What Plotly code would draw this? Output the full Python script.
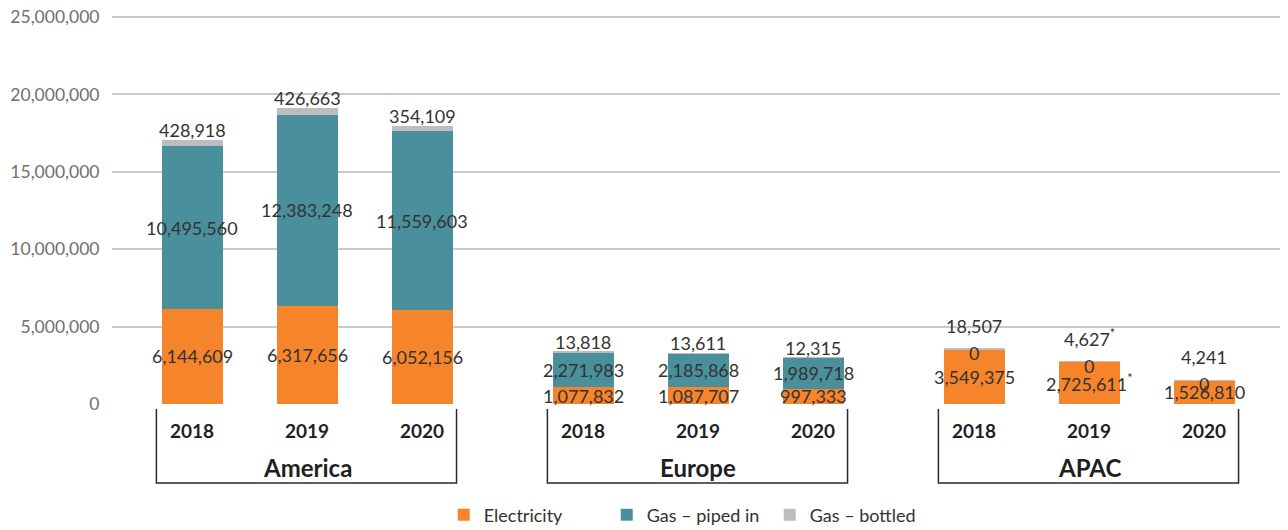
import plotly.graph_objects as go

# ---- data ----
regions = ["America", "Europe", "APAC"]
years = ["2018", "2019", "2020"]
electricity = [6144609, 6317656, 6052156, 1077832, 1087707, 997333, 3549375, 2725611, 1526810]
gas_piped = [10495560, 12383248, 11559603, 2271983, 2185868, 1989718, 0, 0, 0]
gas_bottled = [428918, 426663, 354109, 13818, 13611, 12315, 18507, 4627, 4241]
footnote = ["", "", "", "", "", "", "", "*", ""]  # asterisk markers on APAC 2019
y_ticks = [0, 5000000, 10000000, 15000000, 20000000, 25000000]

series_names = ["Electricity", "Gas – piped in", "Gas – bottled"]
colors = ["#F5842A", "#4A8F9C", "#BCBDC0"]

# ---- layout helpers ----
YEAR_STEP = 1.0
GROUP_STEP = 3.4
BAR_W = 0.53
xpos = []
for gi, _ in enumerate(regions):
    for yi, _ in enumerate(years):
        xpos.append(gi * GROUP_STEP + yi * YEAR_STEP)

FONT = "Lato"
LABEL_COLOR = "#333333"
LSIZE = 18

fig = go.Figure()
for name, vals, col in zip(series_names, [electricity, gas_piped, gas_bottled], colors):
    fig.add_trace(go.Bar(
        x=xpos, y=vals, name=name, width=BAR_W,
        marker=dict(color=col, line=dict(width=0)),
        hoverinfo="y+name",
    ))

annotations = []
for i, x in enumerate(xpos):
    e, g, b = electricity[i], gas_piped[i], gas_bottled[i]
    star = "<sup>*</sup>" if footnote[i] else ""
    annotations.append(dict(x=x, y=e / 2, xref="x", yref="y", text=f"{e:,}{star}",
                            showarrow=False, yanchor="middle",
                            font=dict(size=LSIZE, color=LABEL_COLOR, family=FONT)))
    annotations.append(dict(x=x, y=e + g / 2, xref="x", yref="y", text=f"{g:,}",
                            showarrow=False, yanchor="middle",
                            yshift=(-4 if g == 0 else 0),
                            font=dict(size=LSIZE, color=LABEL_COLOR, family=FONT)))
    annotations.append(dict(x=x, y=e + g + b, xref="x", yref="y", text=f"{b:,}{star}",
                            showarrow=False, yanchor="bottom",
                            yshift=(10 if g == 0 else -3),
                            font=dict(size=LSIZE, color=LABEL_COLOR, family=FONT)))

# plot area (page pixels): 14 (top) to 404 (bottom); y range runs a bit past 25M
PH = 390.0
Y_MAX = 25200000
def py(pix):
    return (404 - pix) / PH

shapes = []
for gi, reg in enumerate(regions):
    xs = xpos[gi * 3: gi * 3 + 3]
    for yi, yr in enumerate(years):
        annotations.append(dict(x=xs[yi], y=py(430), xref="x", yref="paper", text=f"<b>{yr}</b>",
                                showarrow=False, yanchor="middle",
                                font=dict(size=19, color="#1f1f1f", family=FONT)))
    annotations.append(dict(x=xs[1], y=py(467), xref="x", yref="paper", text=f"<b>{reg}</b>",
                            showarrow=False, yanchor="middle",
                            font=dict(size=24, color="#1f1f1f", family=FONT)))
    left = xs[0] - BAR_W / 2 - 0.045
    right = xs[2] + BAR_W / 2 + 0.035
    shapes.append(dict(type="path", xref="x", yref="paper",
                       path=f"M {left} {py(409)} L {left} {py(483)} L {right} {py(483)} L {right} {py(409)}",
                       line=dict(color="#2a2a2a", width=1.5)))

# page body has an 8px margin, so the figure is sized/placed to compensate
fig.update_layout(
    width=1280, height=522,
    margin=dict(l=104, r=0, t=6, b=126, autoexpand=False),
    paper_bgcolor="white", plot_bgcolor="white",
    barmode="stack",
    bargap=0,
    font=dict(family=FONT, color=LABEL_COLOR, size=LSIZE),
    xaxis=dict(range=[-0.696, 9.53], showticklabels=False, showgrid=False,
               zeroline=False, showline=False, fixedrange=True, automargin=False),
    yaxis=dict(range=[0, Y_MAX], tickvals=y_ticks, tickformat=",",
               showgrid=True, gridcolor="#CACACA", gridwidth=1.5,
               zeroline=False, showline=False, automargin=False,
               ticklabeloverflow="allow",
               ticks="outside", ticklen=8, tickcolor="rgba(0,0,0,0)",
               tickfont=dict(size=17.5, color="#707070", family=FONT)),
    legend=dict(orientation="h", x=0.49, xanchor="center", y=py(515), yanchor="middle",
                font=dict(size=LSIZE, color=LABEL_COLOR, family=FONT),
                entrywidth=118, entrywidthmode="pixels", itemsizing="constant",
                traceorder="normal"),
    annotations=annotations,
    shapes=shapes,
    showlegend=True,
)

fig.write_html("out.html")
